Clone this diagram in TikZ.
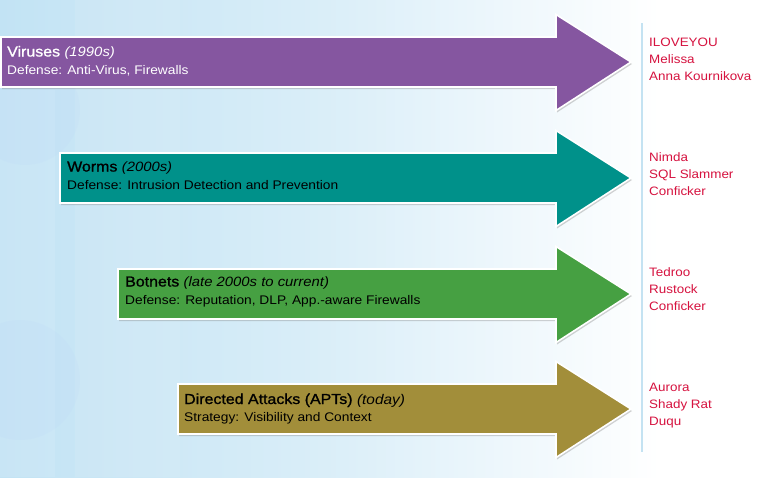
\documentclass[tikz,border=0pt]{standalone}
\usepackage{fontspec}
\setmainfont[FakeStretch=1.1]{Liberation Sans}
\newfontfamily\ttlfont[FakeStretch=1.1,FakeBold=1.2]{Liberation Sans}
\usetikzlibrary{shadows}
\definecolor{cvir}{RGB}{133,86,160}
\definecolor{cworm}{RGB}{0,145,138}
\definecolor{cbot}{RGB}{70,160,66}
\definecolor{capt}{RGB}{162,142,58}
\definecolor{cred}{RGB}{214,18,63}
\definecolor{bgblue}{RGB}{194,227,244}
\definecolor{vline}{RGB}{196,226,242}
\tikzset{
  arrowbody/.style={draw=white, line width=1.6pt, line join=miter,
    drop shadow={opacity=0.35, shadow xshift=1pt, shadow yshift=-2pt}},
  ttl/.style={anchor=base west, inner sep=0pt, font=\fontsize{14.5}{16}\ttlfont},
  sub/.style={anchor=base west, inner sep=0pt, font=\fontsize{12.5}{15}\selectfont},
  lbl/.style={anchor=base west, inner sep=0pt, text=cred, font=\fontsize{12.2}{14}\selectfont}
}
\newcommand\threatarrow[3]{% left, center y, colour
  \fill[#3, arrowbody] (#1,#2-25) -- (556,#2-25) -- (556,#2-47.5) -- (631,#2)
    -- (556,#2+48.5) -- (556,#2+25) -- (#1,#2+25) -- cycle;}
\newcommand\yrs[1]{{\normalfont\itshape #1}}
\begin{document}
\begin{tikzpicture}[x=1pt,y=-1pt]
\useasboundingbox (0,0) rectangle (783,477);
% background
\fill[white] (0,0) rectangle (783,477);
\shade[left color=bgblue, right color=white, middle color=bgblue!60] (0,0) rectangle (660,477);
\fill[white, opacity=0.10] (0,90) rectangle (55,477);
\fill[white, opacity=0.08] (75,0) rectangle (180,477);
\fill[bgblue!70!blue, opacity=0.03] (25,110) circle (55);
\fill[bgblue!70!blue, opacity=0.03] (20,380) circle (60);
\draw[vline, line width=1.5pt] (642,23) -- (642,452);
% arrows
\threatarrow{1}{62}{cvir}
\threatarrow{60}{178}{cworm}
\threatarrow{118}{294}{cbot}
\threatarrow{178}{409}{capt}
% arrow texts
\node[ttl, text=white] (vt) at (7,56.5) {Viruses \yrs{\fontsize{13.5}{16}\selectfont(1990s)}};
\node[sub, text=white] (vs) at (7,74) {Defense: Anti-Virus, Firewalls};
\node[ttl] (wt) at (67,171.5) {Worms \yrs{\fontsize{13.5}{16}\selectfont(2000s)}};
\node[sub] (ws) at (67,189) {Defense: Intrusion Detection and Prevention};
\node[ttl] (bt) at (125,286.5) {Botnets \yrs{\fontsize{13.5}{16}\selectfont(late 2000s to current)}};
\node[sub] (bs) at (125,304) {Defense: Reputation, DLP, App.-aware Firewalls};
\node[ttl] (at) at (184,404) {Directed Attacks (APTs) \yrs{\fontsize{14}{16}\selectfont(today)}};
\node[sub] (as) at (184,421) {Strategy: Visibility and Context};
% examples
\node[lbl] (v1) at (649,46.7) {ILOVEYOU};
\node[lbl] (v2) at (649,63.7) {Melissa};
\node[lbl] (v3) at (649,80.7) {Anna Kournikova};
\node[lbl] (w1) at (649,161.7) {Nimda};
\node[lbl] (w2) at (649,178.7) {SQL Slammer};
\node[lbl] (w3) at (649,195.7) {Conficker};
\node[lbl] (b1) at (649,276.7) {Tedroo};
\node[lbl] (b2) at (649,293.7) {Rustock};
\node[lbl] (b3) at (649,310.7) {Conficker};
\node[lbl] (a1) at (649,391.7) {Aurora};
\node[lbl] (a2) at (649,408.7) {Shady Rat};
\node[lbl] (a3) at (649,425.7) {Duqu};
\end{tikzpicture}
\end{document}
